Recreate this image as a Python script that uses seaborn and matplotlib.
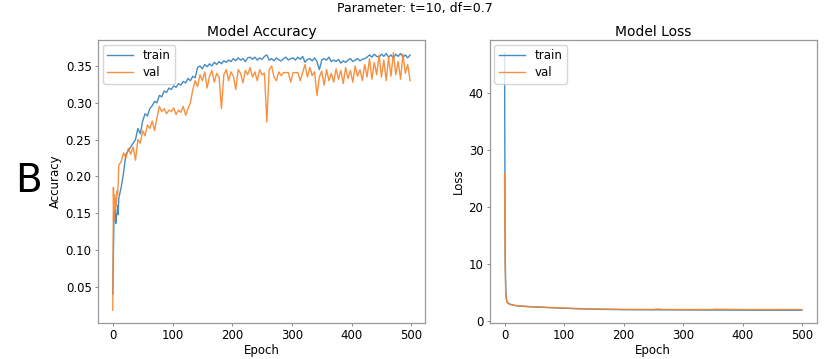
import pandas as pd
import matplotlib.pyplot as plt
import seaborn as sns

acc_epochs = list(range(0, 10)) + list(range(10, 499, 4))

train_acc = [0.040, 0.100, 0.150, 0.140, 0.155, 0.136, 0.145, 0.150, 0.160, 0.148,
             0.170, 0.185, 0.205, 0.230, 0.235, 0.240, 0.245, 0.250, 0.265, 0.258,
             0.275, 0.285, 0.282, 0.292, 0.296, 0.302, 0.300, 0.310, 0.308, 0.316,
             0.314, 0.320, 0.318, 0.323, 0.321, 0.326, 0.324, 0.329, 0.327, 0.333,
             0.330, 0.336, 0.334, 0.348, 0.350, 0.346, 0.352, 0.349, 0.353, 0.350,
             0.355, 0.352, 0.356, 0.353, 0.357, 0.355, 0.358, 0.356, 0.360, 0.357,
             0.361, 0.358, 0.360, 0.356, 0.361, 0.362, 0.359, 0.362, 0.358, 0.361,
             0.359, 0.363, 0.365, 0.358, 0.360, 0.357, 0.361, 0.358, 0.357, 0.360,
             0.362, 0.358, 0.360, 0.361, 0.358, 0.362, 0.359, 0.363, 0.355, 0.359,
             0.360, 0.357, 0.361, 0.356, 0.345, 0.358, 0.360, 0.358, 0.362, 0.356,
             0.358, 0.356, 0.359, 0.354, 0.357, 0.355, 0.358, 0.360, 0.356, 0.358,
             0.360, 0.357, 0.359, 0.360, 0.362, 0.365, 0.362, 0.366, 0.363, 0.362,
             0.366, 0.363, 0.367, 0.362, 0.365, 0.361, 0.366, 0.363, 0.367, 0.362,
             0.365, 0.361, 0.365]

val_acc = [0.018, 0.185, 0.140, 0.175, 0.150, 0.170, 0.160, 0.180, 0.175, 0.190,
           0.215, 0.220, 0.232, 0.225, 0.238, 0.230, 0.240, 0.222, 0.250, 0.245,
           0.262, 0.255, 0.270, 0.265, 0.275, 0.262, 0.280, 0.295, 0.288, 0.292,
           0.285, 0.290, 0.288, 0.293, 0.284, 0.290, 0.287, 0.295, 0.283, 0.292,
           0.300, 0.318, 0.330, 0.322, 0.338, 0.330, 0.342, 0.320, 0.336, 0.344,
           0.328, 0.340, 0.335, 0.292, 0.338, 0.345, 0.330, 0.342, 0.336, 0.318,
           0.345, 0.340, 0.327, 0.344, 0.338, 0.348, 0.335, 0.342, 0.330, 0.345,
           0.338, 0.340, 0.274, 0.345, 0.350, 0.335, 0.330, 0.342, 0.337, 0.341,
           0.341, 0.341, 0.328, 0.341, 0.341, 0.341, 0.330, 0.341, 0.352, 0.335,
           0.348, 0.337, 0.342, 0.310, 0.335, 0.343, 0.324, 0.345, 0.330, 0.340,
           0.328, 0.346, 0.332, 0.344, 0.326, 0.348, 0.333, 0.344, 0.328, 0.350,
           0.336, 0.345, 0.330, 0.352, 0.335, 0.360, 0.332, 0.355, 0.338, 0.365,
           0.335, 0.358, 0.330, 0.362, 0.336, 0.368, 0.338, 0.356, 0.332, 0.366,
           0.340, 0.352, 0.330]

loss_epochs = [0, 1, 2, 3, 4, 5, 7, 10, 15, 20, 30, 40, 50, 75, 100, 125, 150,
               200, 250, 258, 266, 300, 348, 352, 400, 450, 499]
train_loss = [47.0, 12.0, 5.5, 4.0, 3.5, 3.3, 3.1, 2.95, 2.8, 2.72, 2.62, 2.55, 2.5,
              2.38, 2.28, 2.18, 2.1, 2.03, 2.0, 2.0, 2.0, 1.98, 1.96, 1.96, 1.95, 1.94, 1.93]
val_loss = [25.8, 9.0, 5.0, 3.8, 3.4, 3.2, 3.05, 2.95, 2.82, 2.74, 2.65, 2.58, 2.53,
            2.42, 2.32, 2.22, 2.15, 2.08, 2.06, 2.15, 2.06, 2.05, 2.05, 2.12, 2.05, 2.05, 2.05]

acc_df = pd.DataFrame({
    'Epoch': acc_epochs * 2,
    'Accuracy': train_acc + val_acc,
    'set': ['train'] * len(acc_epochs) + ['val'] * len(acc_epochs),
})
loss_df = pd.DataFrame({
    'Epoch': loss_epochs * 2,
    'Loss': train_loss + val_loss,
    'set': ['train'] * len(loss_epochs) + ['val'] * len(loss_epochs),
})

palette = {'train': '#2f80bd', 'val': '#f8842a'}

fig = plt.figure(figsize=(8.3, 3.59), dpi=100)
ax1 = fig.add_axes([0.118, 0.100, 0.394, 0.789])
ax2 = fig.add_axes([0.590, 0.100, 0.394, 0.789])

sns.lineplot(data=acc_df, x='Epoch', y='Accuracy', hue='set', palette=palette,
             ax=ax1, linewidth=1.0, alpha=0.9)
sns.lineplot(data=loss_df, x='Epoch', y='Loss', hue='set', palette=palette,
             ax=ax2, linewidth=1.0, alpha=0.9)

for ax, title in [(ax1, 'Model Accuracy'), (ax2, 'Model Loss')]:
    ax.set_title(title, fontsize=10, pad=3)
    ax.set_xlabel('Epoch', fontsize=8.5, labelpad=1)
    ax.set_ylabel(ax.get_ylabel(), fontsize=8.5, labelpad=3)
    ax.tick_params(labelsize=8.5, length=2.5, width=0.6, color='#777777', pad=2)
    ax.set_xticks([0, 100, 200, 300, 400, 500])
    for s in ax.spines.values():
        s.set_color('#999999')
        s.set_linewidth(0.9)
    ax.legend(loc='upper left', fontsize=8.5, handlelength=2.2,
              borderpad=0.4, labelspacing=0.3, borderaxespad=0.4)

ax1.set_yticks([0.05, 0.10, 0.15, 0.20, 0.25, 0.30, 0.35])
ax1.set_yticklabels(['0.05', '0.10', '0.15', '0.20', '0.25', '0.30', '0.35'])
ax2.set_yticks([0, 10, 20, 30, 40])

fig.suptitle('Parameter: t=10, df=0.7', fontsize=9, y=0.995)
fig.text(0.034, 0.495, 'B', fontsize=28, ha='center', va='center')

plt.savefig('out.png', dpi=100)
